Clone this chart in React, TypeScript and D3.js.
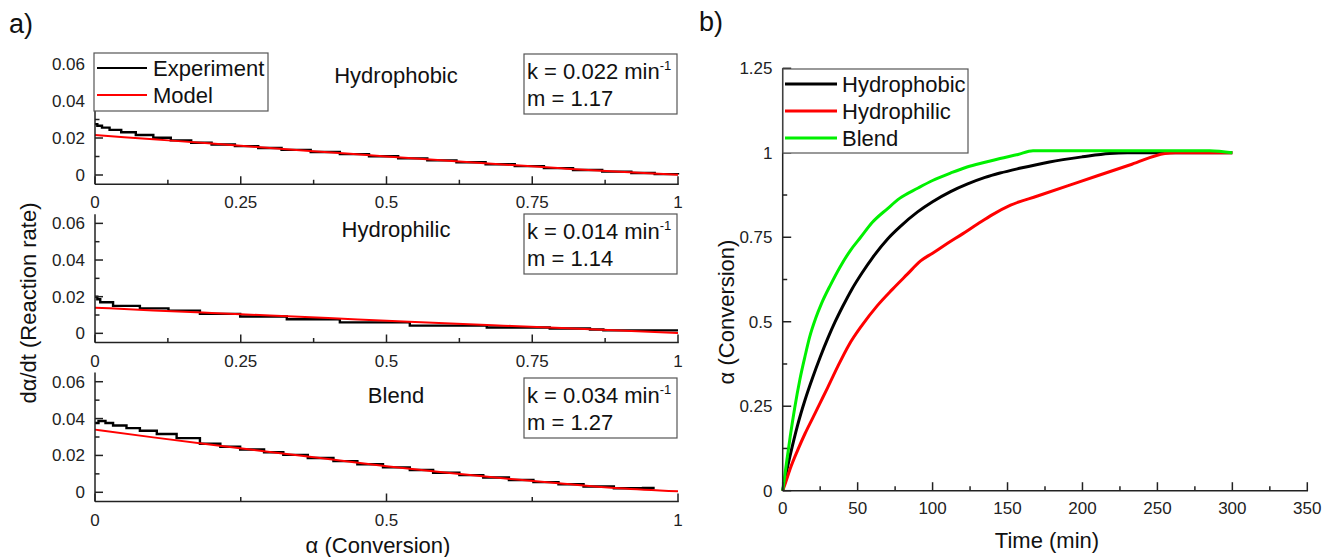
import React from 'react';
import * as d3 from 'd3';

// ---------- Panel a data ----------
const alphaTicks = [0, 0.25, 0.5, 0.75, 1];
const alphaMinorTicks = [0.125, 0.375, 0.625, 0.875];
const blendAlphaTicks = [0, 0.5, 1];
const blendAlphaMinor = [0.25, 0.75];
const rateTicks = [0, 0.02, 0.04, 0.06];
const rateMinorTicks = [0.01, 0.03, 0.05];

const modelAlpha = [0, 0.1, 0.2, 0.3, 0.4, 0.5, 0.6, 0.7, 0.8, 0.9, 1.0];
const hphobModelRate = [0.0216, 0.0193, 0.0170, 0.0146, 0.0123, 0.0100, 0.0078, 0.0057, 0.0036, 0.0017, 0.0002];
const hphilModelRate = [0.0140, 0.0125, 0.0111, 0.0097, 0.0083, 0.0069, 0.0055, 0.0042, 0.0029, 0.0015, 0.0002];
const blendModelRate = [0.0340, 0.0298, 0.0258, 0.0219, 0.0180, 0.0141, 0.0107, 0.0076, 0.0048, 0.0022, 0.0005];

const hphobExpAlpha = [0, 0.004, 0.012, 0.025, 0.045, 0.07, 0.10, 0.13, 0.165, 0.20, 0.24, 0.28, 0.32, 0.37, 0.42, 0.47, 0.52, 0.57, 0.62, 0.67, 0.72, 0.77, 0.82, 0.87, 0.92, 0.96, 1.0];
const hphobExpRate = [0.0275, 0.0266, 0.0256, 0.0244, 0.0231, 0.0216, 0.0201, 0.0187, 0.0174, 0.0165, 0.0156, 0.0146, 0.0136, 0.0124, 0.0113, 0.0101, 0.0090, 0.0079, 0.0069, 0.0058, 0.0048, 0.0037, 0.0027, 0.0018, 0.0011, 0.0005, 0.0003];

const hphilExpAlpha = [0, 0.004, 0.009, 0.031, 0.077, 0.126, 0.18, 0.249, 0.329, 0.42, 0.54, 0.672, 0.78, 0.849, 0.872, 1.0];
const hphilExpRate = [0.0200, 0.0186, 0.0170, 0.0150, 0.0136, 0.0124, 0.0106, 0.0092, 0.0077, 0.0060, 0.0042, 0.0032, 0.0026, 0.0021, 0.0016, 0.0016];

const blendExpAlpha = [0, 0.006, 0.018, 0.031, 0.054, 0.077, 0.106, 0.14, 0.18, 0.215, 0.249, 0.29, 0.323, 0.365, 0.409, 0.45, 0.494, 0.54, 0.58, 0.625, 0.666, 0.71, 0.752, 0.795, 0.838, 0.89, 0.94, 0.96];
const blendExpRate = [0.0376, 0.0387, 0.0376, 0.0362, 0.0348, 0.0334, 0.0316, 0.0294, 0.0263, 0.0247, 0.0232, 0.0217, 0.0203, 0.0186, 0.0169, 0.0152, 0.0135, 0.0121, 0.0106, 0.0093, 0.0080, 0.0067, 0.0055, 0.0044, 0.0031, 0.0022, 0.0023, 0.0023];

// ---------- Panel b data ----------
const timeTicks = [0, 50, 100, 150, 200, 250, 300, 350];
const timeMinorTicks = [25, 75, 125, 175, 225, 275, 325];
const convTicks = [0, 0.25, 0.5, 0.75, 1, 1.25];
const convTickLabels = ['0', '0.25', '0.5', '0.75', '1', '1.25'];
const convMinorTicks = [0.125, 0.375, 0.625, 0.875, 1.125];

const hphobTime = [0, 2, 5, 10, 15, 20, 25, 30, 35, 40, 46, 53, 60, 70, 78, 90, 100, 112, 123, 135, 145, 158, 178, 200, 218, 230, 300];
const hphobConv = [0, 0.045, 0.105, 0.195, 0.27, 0.335, 0.395, 0.45, 0.50, 0.545, 0.595, 0.645, 0.69, 0.745, 0.78, 0.825, 0.855, 0.885, 0.907, 0.927, 0.94, 0.954, 0.973, 0.988, 0.998, 1.0, 1.0];

const hphilTime = [0, 2, 5, 10, 15, 20, 25, 30, 37, 44, 53, 63, 73, 83, 92, 100, 110, 120, 130, 140, 152, 170, 190, 210, 233, 255, 262, 300];
const hphilConv = [0, 0.025, 0.065, 0.12, 0.17, 0.215, 0.26, 0.305, 0.37, 0.43, 0.49, 0.547, 0.595, 0.64, 0.68, 0.703, 0.732, 0.76, 0.789, 0.817, 0.845, 0.872, 0.902, 0.932, 0.966, 0.998, 1.0, 1.0];

const blendTime = [0, 2, 5, 8, 11.5, 15, 18, 22, 26, 32, 38, 45, 52, 60, 70, 78, 90, 100, 112, 123, 135, 145, 157, 167, 200, 250, 285, 300];
const blendConv = [0, 0.065, 0.16, 0.245, 0.33, 0.40, 0.455, 0.51, 0.555, 0.61, 0.66, 0.71, 0.75, 0.795, 0.835, 0.865, 0.895, 0.918, 0.94, 0.958, 0.972, 0.983, 0.995, 1.006, 1.006, 1.006, 1.006, 1.0];

const FONT = '"Liberation Sans", Arial, Helvetica, sans-serif';
const AX = '#222';

type Sub = {
  name: string; k: string; m: string;
  top: number; bottom: number;
  expA: number[]; expR: number[]; modR: number[];
  titleY: number; boxTop: number; kY: number; mY: number;
  ticks: number[]; minor: number[];
};

const subs: Sub[] = [
  { name: 'Hydrophobic', k: '0.022', m: '1.17', top: 54.75, bottom: 184.25, expA: hphobExpAlpha, expR: hphobExpRate, modR: hphobModelRate, titleY: 83, boxTop: 54, kY: 78.5, mY: 105.5, ticks: alphaTicks, minor: alphaMinorTicks },
  { name: 'Hydrophilic', k: '0.014', m: '1.14', top: 214.2, bottom: 342.5, expA: hphilExpAlpha, expR: hphilExpRate, modR: hphilModelRate, titleY: 237, boxTop: 214, kY: 238.5, mY: 265.5, ticks: alphaTicks, minor: alphaMinorTicks },
  { name: 'Blend', k: '0.034', m: '1.27', top: 372.5, bottom: 501.5, expA: blendExpAlpha, expR: blendExpRate, modR: blendModelRate, titleY: 402.5, boxTop: 378, kY: 402.5, mY: 429.5, ticks: blendAlphaTicks, minor: blendAlphaMinor },
];

function fmt(v: number) {
  return String(v);
}

function SubPlot({ s, legend }: { s: Sub; legend: boolean }) {
  const x = d3.scaleLinear().domain([0, 1]).range([95, 678]);
  const y = d3.scaleLinear().domain([-0.005, 0.065]).range([s.bottom, s.top]);
  const step = d3.line<[number, number]>().x(d => x(d[0])).y(d => y(d[1])).curve(d3.curveStepAfter);
  const lin = d3.line<[number, number]>().x(d => x(d[0])).y(d => y(d[1])).curve(d3.curveMonotoneX);
  const exp = d3.zip(s.expA, s.expR) as [number, number][];
  const mod = d3.zip(modelAlpha, s.modR) as [number, number][];
  const x0 = x(0);
  const yb = s.bottom;
  return (
    <g>
      <path d={step(exp) || ''} fill="none" stroke="#000" strokeWidth={2.4} />
      <path d={lin(mod) || ''} fill="none" stroke="#ff0000" strokeWidth={2} />
      <line x1={x0} x2={x0} y1={s.top} y2={yb} stroke={AX} strokeWidth={1.5} />
      <line x1={x0} x2={x(1) + 0.75} y1={yb} y2={yb} stroke={AX} strokeWidth={1.5} />
      {s.ticks.map(t => (
        <g key={'xt' + t}>
          <line x1={x(t)} x2={x(t)} y1={yb} y2={yb - 8} stroke={AX} strokeWidth={1.5} />
          <text x={x(t)} y={yb + 24} textAnchor="middle" fontSize={17} fontFamily={FONT} fill="#222">{fmt(t)}</text>
        </g>
      ))}
      {s.minor.map(t => (
        <line key={'xm' + t} x1={x(t)} x2={x(t)} y1={yb} y2={yb - 4.5} stroke={AX} strokeWidth={1.5} />
      ))}
      {rateTicks.map(t => (
        <g key={'yt' + t}>
          <line x1={x0} x2={x0 + 8} y1={y(t)} y2={y(t)} stroke={AX} strokeWidth={1.5} />
          <text x={85} y={y(t) + 6} textAnchor="end" fontSize={17} fontFamily={FONT} fill="#222">{fmt(t)}</text>
        </g>
      ))}
      {rateMinorTicks.map(t => (
        <line key={'ym' + t} x1={x0} x2={x0 + 4.5} y1={y(t)} y2={y(t)} stroke={AX} strokeWidth={1.5} />
      ))}
      <text x={396} y={s.titleY} textAnchor="middle" fontSize={22} fontFamily={FONT} fill="#111">{s.name}</text>
      <rect x={524} y={s.boxTop} width={153} height={60} fill="#fff" stroke="#555" strokeWidth={1.2} />
      <text x={527} y={s.kY} fontSize={22} fontFamily={FONT} fill="#111">
        {'k = ' + s.k + ' min'}
        <tspan dy={-9} fontSize={13}>-1</tspan>
      </text>
      <text x={527} y={s.mY} fontSize={22} fontFamily={FONT} fill="#111">{'m = ' + s.m}</text>
      {legend && (
        <g>
          <rect x={94} y={53} width={174} height={58} fill="#fff" stroke="#555" strokeWidth={1.2} />
          <line x1={97} x2={147} y1={68} y2={68} stroke="#000" strokeWidth={2} />
          <text x={153} y={76} fontSize={22} fontFamily={FONT} fill="#111">Experiment</text>
          <line x1={97} x2={147} y1={95} y2={95} stroke="#ff0000" strokeWidth={2} />
          <text x={153} y={103} fontSize={22} fontFamily={FONT} fill="#111">Model</text>
        </g>
      )}
    </g>
  );
}

function PanelB() {
  const x = d3.scaleLinear().domain([0, 350]).range([782.7, 1307.3]);
  const y = d3.scaleLinear().domain([0, 1.25]).range([490.7, 68.3]);
  const line = d3.line<[number, number]>().x(d => x(d[0])).y(d => y(d[1])).curve(d3.curveMonotoneX);
  const series = [
    { name: 'Hydrophobic', color: '#000000', t: hphobTime, a: hphobConv },
    { name: 'Hydrophilic', color: '#ff0000', t: hphilTime, a: hphilConv },
    { name: 'Blend', color: '#00f000', t: blendTime, a: blendConv },
  ];
  const x0 = x(0);
  const yb = y(0);
  return (
    <g>
      {series.map(s => (
        <path key={s.name} d={line(d3.zip(s.t, s.a) as [number, number][]) || ''} fill="none" stroke={s.color} strokeWidth={3} />
      ))}
      <line x1={x0} x2={x0} y1={y(1.25)} y2={yb} stroke={AX} strokeWidth={1.5} />
      <line x1={x0} x2={x(350) + 0.75} y1={yb} y2={yb} stroke={AX} strokeWidth={1.5} />
      {timeTicks.map(t => (
        <g key={'bt' + t}>
          <line x1={x(t)} x2={x(t)} y1={yb} y2={yb - 8.5} stroke={AX} strokeWidth={1.5} />
          <text x={x(t)} y={yb + 23} textAnchor="middle" fontSize={17} fontFamily={FONT} fill="#222">{t}</text>
        </g>
      ))}
      {timeMinorTicks.map(t => (
        <line key={'bm' + t} x1={x(t)} x2={x(t)} y1={yb} y2={yb - 4.5} stroke={AX} strokeWidth={1.5} />
      ))}
      {convTicks.map((t, i) => (
        <g key={'bc' + t}>
          <line x1={x0} x2={x0 + 8.5} y1={y(t)} y2={y(t)} stroke={AX} strokeWidth={1.5} />
          <text x={772.5} y={y(t) + 6} textAnchor="end" fontSize={17} fontFamily={FONT} fill="#222">{convTickLabels[i]}</text>
        </g>
      ))}
      {convMinorTicks.map(t => (
        <line key={'bcm' + t} x1={x0} x2={x0 + 4.5} y1={y(t)} y2={y(t)} stroke={AX} strokeWidth={1.5} />
      ))}
      <rect x={783} y={69} width={185} height={84} fill="#fff" stroke="#555" strokeWidth={1.2} />
      {series.map((s, i) => (
        <g key={'lg' + s.name}>
          <line x1={785} x2={837} y1={84 + i * 27} y2={84 + i * 27} stroke={s.color} strokeWidth={3} />
          <text x={842} y={92 + i * 27} fontSize={22} fontFamily={FONT} fill="#111">{s.name}</text>
        </g>
      ))}
      <text x={1047} y={548} textAnchor="middle" fontSize={22} fontFamily={FONT} fill="#111">Time (min)</text>
      <text transform={`translate(734,${312}) rotate(-90)`} textAnchor="middle" fontSize={22} fontFamily={FONT} fill="#111">α (Conversion)</text>
    </g>
  );
}

export default function App() {
  return (
    <div style={{ position: 'absolute', left: 0, top: 0 }}>
      <svg width={1323} height={557} viewBox="0 0 1323 557" style={{ display: 'block', background: '#fff' }}>
        <rect x={0} y={0} width={1323} height={557} fill="#fff" />
        <text x={9} y={33} fontSize={27} fontFamily={FONT} fill="#111">a)</text>
        <text x={699} y={31} fontSize={27} fontFamily={FONT} fill="#111">b)</text>
        {subs.map((s, i) => <SubPlot key={s.name} s={s} legend={i === 0} />)}
        <text x={378} y={553} textAnchor="middle" fontSize={22} fontFamily={FONT} fill="#111">α (Conversion)</text>
        <text transform={`translate(36,${303}) rotate(-90)`} textAnchor="middle" fontSize={22} fontFamily={FONT} fill="#111">dα/dt (Reaction rate)</text>
        <PanelB />
      </svg>
    </div>
  );
}
